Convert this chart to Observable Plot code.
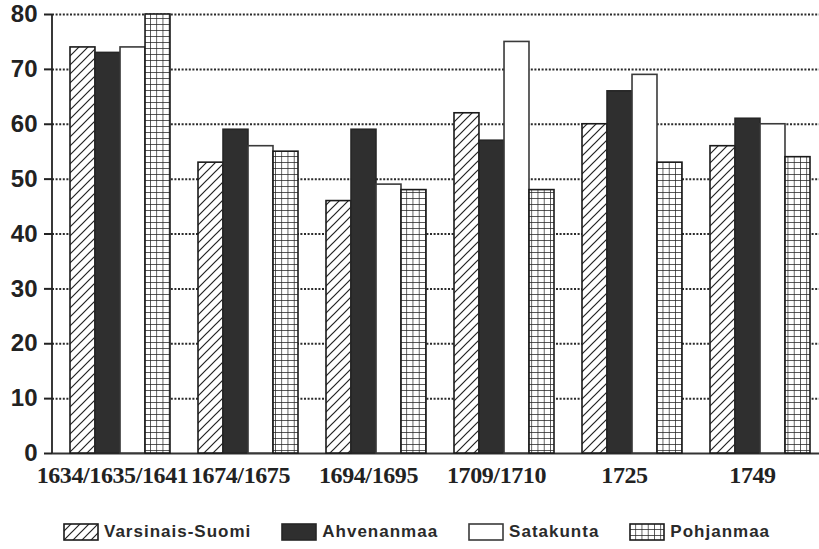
<!DOCTYPE html>
<html>
<head>
<meta charset="utf-8">
<script src="https://cdn.jsdelivr.net/npm/d3@7"></script>
<script src="https://cdn.jsdelivr.net/npm/@observablehq/plot@0.6"></script>
<style>
  html, body { margin: 0; padding: 0; background: #fff; }
  #chart svg { display: block; }
  .legend { display: flex; align-items: center; margin-top: 28px; margin-left: 63px; width: 756px;
            font-family: "Liberation Sans", Arial, sans-serif; font-weight: 700; font-size: 17px;
            letter-spacing: 1px; color: #2a2a2a; white-space: nowrap; line-height: 18px; }
  .legend .item { display: flex; align-items: center; flex-shrink: 0; margin-right: 30px; }
  .legend span { font-weight: 700; }
  .legend svg { margin-right: 5px; display: block; flex-shrink: 0; }
</style>
</head>
<body>
<div id="chart"></div>
<div class="legend" id="legend"></div>
<script>
const periods = ["1634/1635/1641", "1674/1675", "1694/1695", "1709/1710", "1725", "1749"];
const seriesNames = ["Varsinais-Suomi", "Ahvenanmaa", "Satakunta", "Pohjanmaa"];
const varsinaisSuomi = [74, 53, 46, 62, 60, 56];
const ahvenanmaa = [73, 59, 59, 57, 66, 61];
const satakunta = [74, 56, 49, 75, 69, 60];
const pohjanmaa = [80, 55, 48, 48, 53, 54];
const yTicks = [0, 10, 20, 30, 40, 50, 60, 70, 80];

const seriesValues = [varsinaisSuomi, ahvenanmaa, satakunta, pohjanmaa];
const fills = ["url(#hatch)", "#2f2f2f", "#ffffff", "url(#gridpat)"];
const strokes = ["#1a1a1a", "#262626", "#3a3a3a", "#1a1a1a"];

// layout
const W = 819, H = 495;
const xRange = [68, 811];
const padInner = 0.222;
const step = (xRange[1] - xRange[0]) / (periods.length - padInner);
const bw = step * (1 - padInner);
const q = bw / seriesNames.length;

function defsMark() {
  const defs = d3.create("svg:defs");
  const h = defs.append("pattern").attr("id", "hatch").attr("patternUnits", "userSpaceOnUse")
    .attr("width", 9).attr("height", 9);
  h.append("rect").attr("width", 9).attr("height", 9).attr("fill", "#fff");
  h.append("path").attr("d", "M-2,11 L11,-2 M-2,2 L2,-2 M7,11 L11,7")
    .attr("stroke", "#222").attr("stroke-width", 1.2);
  const g = defs.append("pattern").attr("id", "gridpat").attr("patternUnits", "userSpaceOnUse")
    .attr("width", 6.25).attr("height", 6);
  g.append("rect").attr("width", 6.25).attr("height", 6).attr("fill", "#fff");
  g.append("path").attr("d", "M0,0 H6.25 M0,0 V6").attr("stroke", "#222").attr("stroke-width", 1.4);
  return defs.node();
}

const barMarks = seriesNames.map((name, i) =>
  Plot.barY(periods.map((p, j) => ({period: p, value: seriesValues[i][j]})), {
    x: "period", y: "value",
    fill: fills[i], stroke: strokes[i], strokeWidth: 1.6,
    insetLeft: i * q, insetRight: (seriesNames.length - 1 - i) * q
  })
);

const chart = Plot.plot({
  width: W, height: H,
  marginLeft: 52, marginRight: 0, marginTop: 14, marginBottom: 42,
  style: {background: "#fff"},
  x: {domain: periods, range: xRange, paddingInner: padInner, paddingOuter: 0, label: null, axis: null},
  y: {domain: [0, 80], label: null, axis: null},
  marks: [
    defsMark,
    Plot.ruleY(yTicks.filter(d => d > 0), {stroke: "#2a2a2a", strokeWidth: 2, strokeDasharray: "2,1.6"}),
    Plot.ruleY([0], {stroke: "#333", strokeWidth: 2}),
    ...barMarks,
    Plot.axisY({ticks: yTicks, tickSize: 8, tickPadding: 7, stroke: "#222", strokeWidth: 2, fontSize: 24,
      label: null, tickFormat: d => String(d)}),
    Plot.axisX({tickSize: 0, tickPadding: 12, dx: -8, fontSize: 24, label: null})
  ]
});

// vertical axis line
const svg = d3.select(chart);
svg.append("line").attr("x1", 52).attr("x2", 52).attr("y1", chart.scale("y").apply(80)).attr("y2", chart.scale("y").apply(0))
  .attr("stroke", "#222").attr("stroke-width", 1.8);

// fonts
svg.selectAll("g[aria-label='y-axis tick label']")
  .attr("font-family", "'Liberation Sans', Arial, sans-serif").attr("font-weight", "bold").attr("fill", "#222");
svg.selectAll("g[aria-label='x-axis tick label']")
  .attr("font-family", "'Liberation Serif', 'Times New Roman', serif").attr("font-weight", "bold")
  .attr("letter-spacing", "-0.4px").attr("fill", "#222");

document.getElementById("chart").appendChild(chart);

// legend
const legend = d3.select("#legend");
seriesNames.forEach((name, i) => {
  const item = legend.append("div").attr("class", "item");
  const s = item.append("svg").attr("width", 36).attr("height", 18);
  s.append("rect").attr("x", 1).attr("y", 1).attr("width", 34).attr("height", 16)
    .attr("fill", fills[i]).attr("stroke", strokes[i]).attr("stroke-width", 1.6);
  item.append("span").text(name);
});
</script>
</body>
</html>
